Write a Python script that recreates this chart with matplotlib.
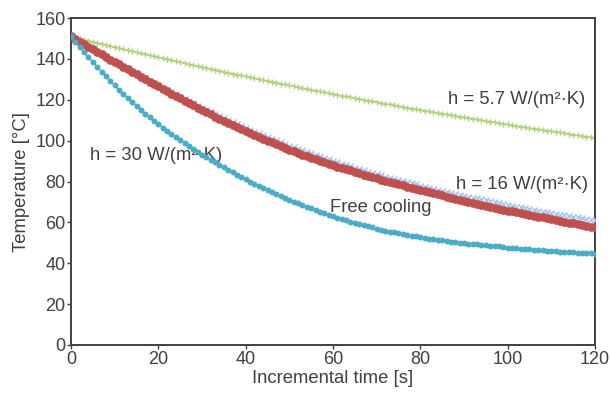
import numpy as np
import matplotlib
matplotlib.use("Agg")
import matplotlib.pyplot as plt

plt.rcParams['font.family'] = ['Liberation Sans', 'DejaVu Sans']

time_s = list(range(0, 121))

temp_h5_7 = [
    151.0, 150.5, 150.0, 149.4, 148.9, 148.4, 147.9, 147.4, 146.8, 146.3, 145.8,
    145.3, 144.8, 144.3, 143.8, 143.3, 142.8, 142.3, 141.8, 141.3, 140.8,
    140.3, 139.8, 139.4, 138.9, 138.4, 137.9, 137.4, 136.9, 136.5, 136.0,
    135.5, 135.1, 134.6, 134.2, 133.7, 133.2, 132.8, 132.3, 131.9, 131.4,
    131.0, 130.5, 130.1, 129.7, 129.2, 128.8, 128.4, 127.9, 127.5, 127.0,
    126.6, 126.2, 125.8, 125.3, 124.9, 124.5, 124.1, 123.7, 123.2, 122.8,
    122.4, 122.0, 121.6, 121.2, 120.8, 120.4, 120.0, 119.6, 119.2, 118.8,
    118.4, 118.0, 117.7, 117.3, 116.9, 116.5, 116.1, 115.7, 115.4, 115.0,
    114.6, 114.3, 113.9, 113.6, 113.2, 112.8, 112.5, 112.1, 111.8, 111.4,
    111.1, 110.7, 110.4, 110.0, 109.7, 109.3, 109.0, 108.6, 108.3, 107.9,
    107.6, 107.2, 106.9, 106.6, 106.2, 105.9, 105.6, 105.3, 104.9, 104.6,
    104.3, 104.0, 103.6, 103.3, 103.0, 102.6, 102.3, 102.0, 101.6, 101.3,
]

temp_free = [
    151.0, 149.8, 148.5, 147.3, 146.1, 144.9, 143.6, 142.4, 141.2, 139.9, 138.7,
    137.5, 136.4, 135.2, 134.0, 132.9, 131.7, 130.5, 129.4, 128.2, 127.0,
    125.9, 124.8, 123.7, 122.6, 121.5, 120.4, 119.3, 118.2, 117.1, 116.0,
    115.0, 114.0, 113.0, 112.0, 111.0, 110.0, 109.0, 108.0, 107.0, 106.0,
    105.2, 104.3, 103.5, 102.6, 101.8, 100.9, 100.1, 99.2, 98.4, 97.5,
    96.8, 96.0, 95.3, 94.5, 93.8, 93.0, 92.3, 91.5, 90.8, 90.0,
    89.4, 88.7, 88.1, 87.4, 86.8, 86.1, 85.5, 84.8, 84.2, 83.5,
    83.0, 82.4, 81.9, 81.3, 80.8, 80.2, 79.7, 79.1, 78.6, 78.0,
    77.5, 77.0, 76.5, 76.0, 75.5, 75.0, 74.5, 74.0, 73.5, 73.0,
    72.6, 72.1, 71.7, 71.2, 70.8, 70.3, 69.9, 69.4, 69.0, 68.5,
    68.1, 67.7, 67.3, 66.9, 66.5, 66.1, 65.7, 65.3, 64.9, 64.5,
    64.2, 63.8, 63.5, 63.1, 62.8, 62.4, 62.1, 61.7, 61.4, 61.0,
]

temp_h16 = [
    151.0, 149.7, 148.4, 147.2, 145.9, 144.7, 143.4, 142.2, 140.9, 139.7, 138.5,
    137.3, 136.1, 134.9, 133.7, 132.5, 131.3, 130.1, 128.9, 127.7, 126.5,
    125.3, 124.2, 123.0, 121.9, 120.7, 119.6, 118.5, 117.3, 116.2, 115.0,
    113.9, 112.9, 111.8, 110.8, 109.7, 108.7, 107.6, 106.6, 105.5, 104.5,
    103.6, 102.7, 101.8, 100.9, 100.0, 99.1, 98.2, 97.3, 96.4, 95.5,
    94.7, 94.0, 93.2, 92.5, 91.7, 91.0, 90.2, 89.5, 88.7, 88.0,
    87.3, 86.7, 86.0, 85.4, 84.7, 84.1, 83.4, 82.8, 82.1, 81.5,
    80.9, 80.4, 79.8, 79.2, 78.6, 78.1, 77.5, 76.9, 76.4, 75.8,
    75.3, 74.7, 74.2, 73.7, 73.2, 72.6, 72.1, 71.6, 71.0, 70.5,
    70.0, 69.6, 69.1, 68.6, 68.1, 67.7, 67.2, 66.7, 66.3, 65.8,
    65.4, 64.9, 64.5, 64.1, 63.6, 63.2, 62.8, 62.4, 61.9, 61.5,
    61.1, 60.7, 60.3, 59.9, 59.5, 59.1, 58.7, 58.3, 57.9, 57.5,
]

temp_h30 = [
    151.0, 148.3, 145.7, 143.2, 140.8, 138.4, 136.1, 133.8, 131.5, 129.2, 127.0,
    124.9, 122.8, 120.8, 118.8, 116.9, 115.0, 113.2, 111.4, 109.7, 108.0,
    106.4, 104.8, 103.2, 101.7, 100.2, 98.7, 97.2, 95.8, 94.4, 93.0,
    91.8, 90.6, 89.4, 88.2, 87.0, 85.8, 84.6, 83.4, 82.2, 81.0,
    79.9, 78.8, 77.8, 76.8, 75.8, 74.8, 73.8, 72.8, 71.9, 71.0,
    70.1, 69.3, 68.5, 67.7, 66.9, 66.1, 65.3, 64.5, 63.7, 63.0,
    62.3, 61.6, 61.0, 60.4, 59.8, 59.2, 58.6, 58.0, 57.5, 57.0,
    56.5, 56.0, 55.5, 55.1, 54.7, 54.3, 53.9, 53.5, 53.1, 52.7,
    52.4, 52.1, 51.8, 51.5, 51.2, 50.9, 50.6, 50.3, 50.0, 49.8,
    49.6, 49.4, 49.2, 49.0, 48.8, 48.6, 48.4, 48.2, 47.9, 47.7,
    47.5, 47.4, 47.2, 47.0, 46.9, 46.7, 46.5, 46.4, 46.2, 46.0,
    45.9, 45.7, 45.6, 45.5, 45.3, 45.2, 45.1, 44.9, 44.8, 44.6,
]

x_ticks = [0, 20, 40, 60, 80, 100, 120]
y_ticks = [0, 20, 40, 60, 80, 100, 120, 140, 160]
x_label = "Incremental time [s]"
y_label = "Temperature [°C]"

TXT = "#404040"
fig = plt.figure(figsize=(6.10, 3.96), dpi=100)
ax = fig.add_axes([0.1164, 0.1288, 0.8590, 0.8257])

ax.plot(time_s, temp_h5_7, color="#b3d17c", lw=1.0, marker="+", ms=5,
        mew=1.0, zorder=2)
ax.plot(time_s, temp_free, color="#a9c4ee", lw=0, marker="x", ms=4.0,
        mew=1.0, zorder=3)
ax.plot(time_s, temp_h16, color="#c0504d", lw=3, marker="o", ms=6.3,
        mew=0, zorder=4)
ax.plot(time_s, temp_h30, color="#4bacc6", lw=1, marker="o", ms=4.3,
        mew=0, zorder=5)

ax.set_xlim(0, 120)
ax.set_ylim(0, 160)
ax.set_xticks(x_ticks)
ax.set_yticks(y_ticks)
ax.tick_params(axis="both", direction="out", length=3, width=1, colors=TXT,
               labelsize=13, pad=1)
ax.tick_params(axis="x", pad=1.5)
for s in ax.spines.values():
    s.set_color("#404040")
    s.set_linewidth(1.4)

ax.set_xlabel(x_label, fontsize=13.3, color=TXT, labelpad=1)
ax.set_ylabel(y_label, fontsize=13.3, color=TXT, labelpad=4)

FS = 13.3
ax.text(117.7, 119.9, "h = 5.7 W/(m²·K)", fontsize=FS, color=TXT,
        ha="right", va="center")
ax.text(118.4, 78.3, "h = 16 W/(m²·K)", fontsize=FS, color=TXT,
        ha="right", va="center")
ax.text(4.3, 92.5, "h = 30 W/(m²·K)", fontsize=FS, color=TXT,
        ha="left", va="center")
ax.text(59.3, 67.5, "Free cooling", fontsize=FS, color=TXT,
        ha="left", va="center", zorder=6)

fig.savefig("out.png", dpi=100)
